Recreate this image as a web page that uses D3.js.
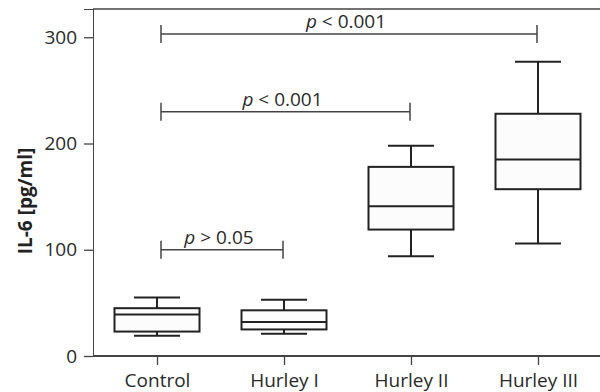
<!DOCTYPE html>
<html>
<head>
<meta charset="utf-8">
<script src="https://cdn.jsdelivr.net/npm/d3@7"></script>
<style>
  body { margin: 0; background: #fff; }
  svg { display: block; font-family: "Open Sans", "Noto Sans", sans-serif; }
</style>
</head>
<body>
<div class="chart"></div>
<script>
// groups and box stats (pg/ml)
var groups = ["Control", "Hurley I", "Hurley II", "Hurley III"];
var whiskerLow = [19, 21, 94, 106];
var q1 = [23, 25, 119, 157];
var median = [39, 32, 141, 185];
var q3 = [45, 43, 178, 228];
var whiskerHigh = [55, 53, 198, 277];
var yTicks = [0, 100, 200, 300];

// significance brackets
var bracketFrom = ["Control", "Control", "Control"];
var bracketTo = ["Hurley I", "Hurley II", "Hurley III"];
var bracketY = [100, 230, 303];
var bracketText = [["p", " > 0.05"], ["p", " < 0.001"], ["p", " < 0.001"]];

var width = 600, height = 392;
var margin = {top: 9, right: 0, bottom: 36, left: 93};
var fs = 19;

var svg = d3.select(".chart").append("svg")
    .attr("width", width)
    .attr("height", height);

var x = d3.scalePoint()
    .domain(groups)
    .range([157, 538]);

var y = d3.scaleLinear()
    .domain([0, 326.6])
    .range([height - margin.bottom, margin.top]);

var boxW = 85, capW = 46;

// frame: top line and axes
svg.append("line")
    .attr("x1", margin.left).attr("x2", width)
    .attr("y1", y.range()[1]).attr("y2", y.range()[1])
    .attr("stroke", "#444").attr("stroke-width", 1.5);

var yAxis = svg.append("g")
    .attr("transform", "translate(" + margin.left + ",0)")
    .call(d3.axisLeft(y).tickValues(yTicks).tickSize(9).tickPadding(7).tickFormat(d3.format("d")));
yAxis.attr("font-family", null).attr("font-size", null);
yAxis.select(".domain").attr("stroke", "#444").attr("stroke-width", 1.5);
yAxis.selectAll(".tick line").attr("stroke", "#444").attr("stroke-width", 1.3);
yAxis.selectAll("text").attr("font-size", fs).attr("fill", "#2a2a2a");

var xAxis = svg.append("g")
    .attr("transform", "translate(0," + y(0) + ")")
    .call(d3.axisBottom(x).tickSize(9).tickPadding(9).tickSizeOuter(0));
xAxis.attr("font-family", null).attr("font-size", null);
xAxis.select(".domain").attr("d", "M" + margin.left + ",0H" + width)
    .attr("stroke", "#444").attr("stroke-width", 1.5);
xAxis.selectAll(".tick line").attr("stroke", "#444").attr("stroke-width", 1.3);
xAxis.selectAll("text").attr("font-size", fs).attr("fill", "#2a2a2a");

svg.selectAll(".domain").attr("shape-rendering", "crispEdges");

// y label
svg.append("text")
    .attr("transform", "translate(32,201) rotate(-90)")
    .attr("text-anchor", "middle")
    .attr("font-size", fs)
    .attr("font-weight", "bold")
    .attr("fill", "#222")
    .text("IL-6 [pg/ml]");

// boxes
var box = svg.selectAll(".box")
    .data(groups)
    .enter().append("g")
    .attr("class", "box")
    .attr("transform", function(d) { return "translate(" + x(d) + ",0)"; });

box.append("line")
    .attr("y1", function(d, i) { return y(whiskerLow[i]); })
    .attr("y2", function(d, i) { return y(whiskerHigh[i]); })
    .attr("stroke", "#222").attr("stroke-width", 2);

box.append("rect")
    .attr("x", -boxW / 2)
    .attr("width", boxW)
    .attr("y", function(d, i) { return y(q3[i]); })
    .attr("height", function(d, i) { return y(q1[i]) - y(q3[i]); })
    .attr("fill", "#fcfcfc")
    .attr("stroke", "#222").attr("stroke-width", 2);

box.append("line")
    .attr("x1", -boxW / 2).attr("x2", boxW / 2)
    .attr("y1", function(d, i) { return y(median[i]); })
    .attr("y2", function(d, i) { return y(median[i]); })
    .attr("stroke", "#222").attr("stroke-width", 2);

[whiskerLow, whiskerHigh].forEach(function(arr) {
    box.append("line")
        .attr("x1", -capW / 2).attr("x2", capW / 2)
        .attr("y1", function(d, i) { return y(arr[i]); })
        .attr("y2", function(d, i) { return y(arr[i]); })
        .attr("stroke", "#222").attr("stroke-width", 2);
});

// brackets
bracketY.forEach(function(v, i) {
    var x1 = x(bracketFrom[i]) + 4, x2 = x(bracketTo[i]) - 1, yy = y(v);
    var g = svg.append("g").attr("stroke", "#444").attr("stroke-width", 1.5);
    g.append("line").attr("x1", x1).attr("x2", x2).attr("y1", yy).attr("y2", yy);
    g.append("line").attr("x1", x1).attr("x2", x1).attr("y1", yy - 9).attr("y2", yy + 9);
    g.append("line").attr("x1", x2).attr("x2", x2).attr("y1", yy - 9).attr("y2", yy + 9);

    var t = svg.append("text")
        .attr("x", (x1 + x2) / 2 - 3)
        .attr("y", yy - 6)
        .attr("text-anchor", "middle")
        .attr("font-size", fs)
        .attr("fill", "#2a2a2a");
    t.append("tspan").attr("font-style", "italic").text(bracketText[i][0]);
    t.append("tspan").text(bracketText[i][1]);
});
</script>
</body>
</html>
